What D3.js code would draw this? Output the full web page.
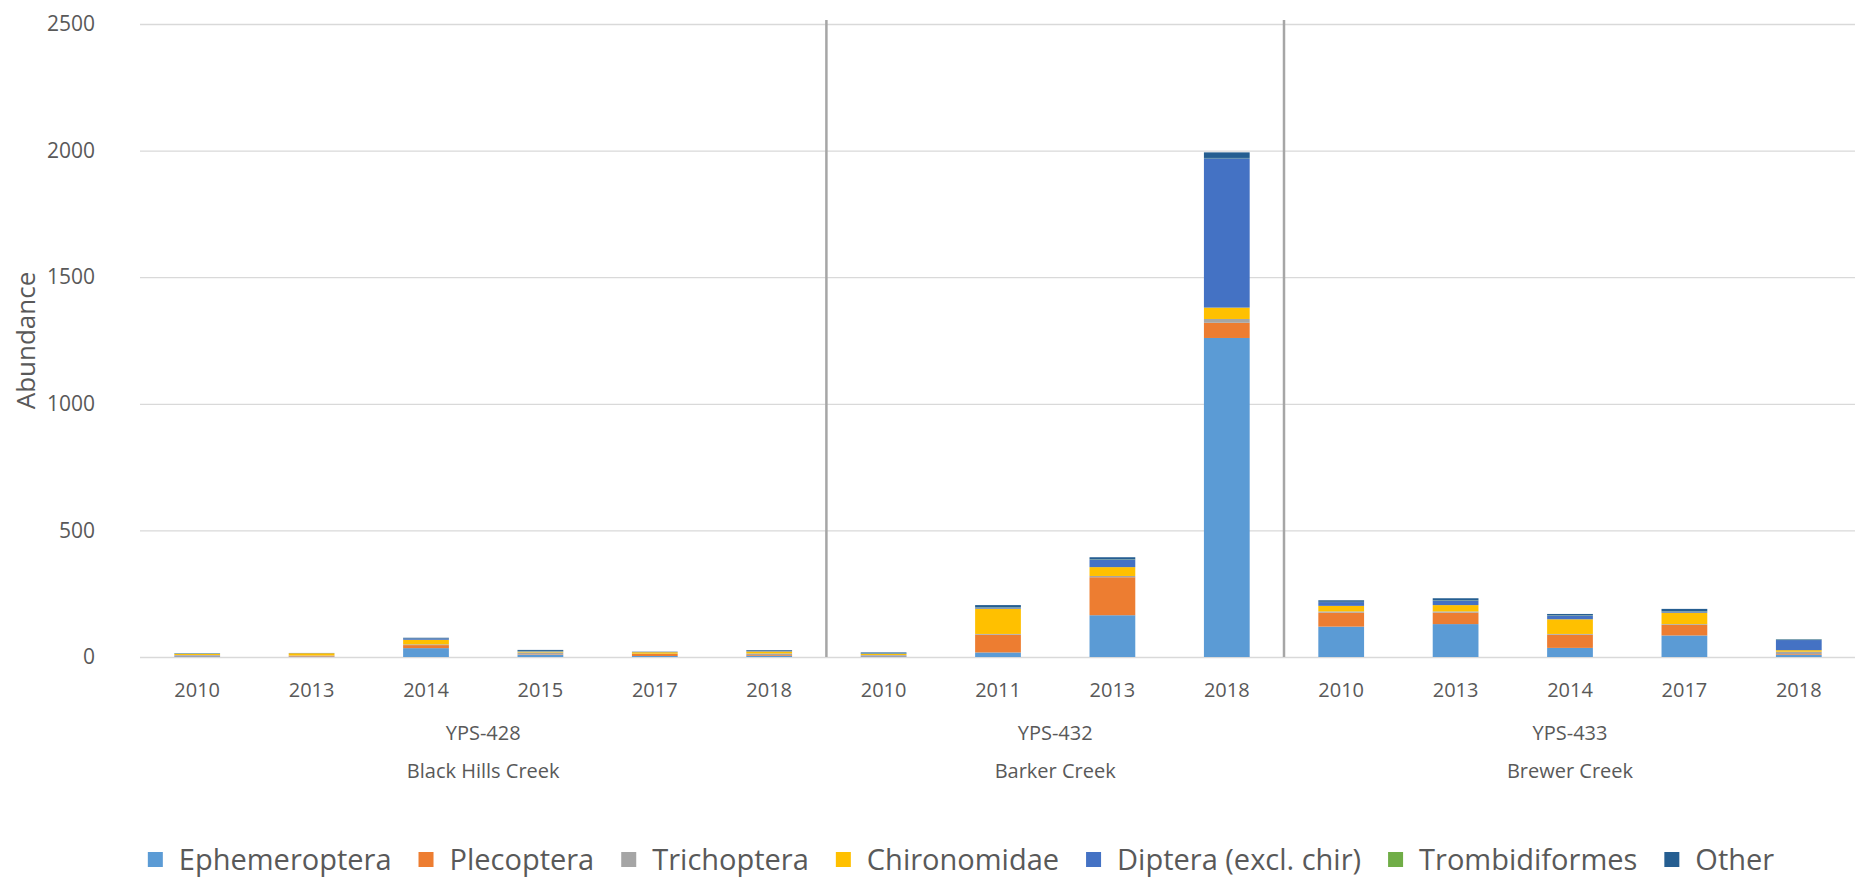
<!DOCTYPE html>
<html>
<head>
<meta charset="utf-8">
<script src="https://cdn.jsdelivr.net/npm/d3@7"></script>
<style>
  body { margin: 0; background: #fff; }
  svg text { font-family: 'Open Sans', sans-serif; fill: #595959; }
</style>
</head>
<body>
<svg id="chart" width="1855" height="889"></svg>
<script>
// sites (outer level of the category axis)
const sites = ['YPS-428', 'YPS-432', 'YPS-433']
const siteNames = ['Black Hills Creek', 'Barker Creek', 'Brewer Creek']
// one entry per bar
const years = ['2010', '2013', '2014', '2015', '2017', '2018', '2010', '2011', '2013', '2018', '2010', '2013', '2014', '2017', '2018']
const siteOf = [0, 0, 0, 0, 0, 0, 1, 1, 1, 1, 2, 2, 2, 2, 2]

const taxa = ['Ephemeroptera', 'Plecoptera', 'Trichoptera', 'Chironomidae', 'Diptera (excl. chir)', 'Trombidiformes', 'Other']
const colors = ['#5b9bd5', '#ed7d31', '#a5a5a5', '#ffc000', '#4472c4', '#70ad47', '#255e91']

const ephemeroptera = [3, 2, 35, 8, 4, 5, 3, 18, 165, 1260, 120, 130, 36, 85, 8]
const plecoptera = [2, 3, 12, 2, 8, 3, 2, 70, 150, 60, 55, 45, 52, 42, 3]
const trichoptera = [3, 1, 3, 8, 1, 6, 3, 3, 5, 15, 5, 5, 3, 3, 10]
const chironomidae = [4, 9, 18, 3, 6, 8, 4, 100, 35, 45, 22, 25, 58, 45, 6]
const diptera = [1, 1, 5, 2, 1, 2, 2, 5, 30, 590, 15, 18, 15, 5, 40]
const trombidiformes = [1, 0, 0, 1, 0, 0, 1, 1, 1, 1, 1, 1, 1, 1, 1]
const other = [1, 0, 3, 4, 1, 3, 3, 8, 8, 22, 6, 8, 5, 9, 2]

const yTicks = [0, 500, 1000, 1500, 2000, 2500]

const seriesValues = [ephemeroptera, plecoptera, trichoptera, chironomidae, diptera, trombidiformes, other]
const rows = years.map((y, i) => {
  const r = { id: i }
  taxa.forEach((t, k) => { r[t] = seriesValues[k][i] })
  return r
})

const margin = { left: 140, right: 1856, top: 24, bottom: 657 }
const svg = d3.select('#chart')

const x = d3.scaleBand()
  .domain(d3.range(years.length))
  .range([margin.left, margin.right])
  .paddingInner(0.6)
  .paddingOuter(0.3)
const y = d3.scaleLinear().domain([0, 2500]).range([margin.bottom, margin.top])

// gridlines + tick labels
const yAxis = svg.append('g')
  .attr('transform', `translate(${margin.left},0)`)
  .call(d3.axisLeft(y).tickValues(yTicks).tickFormat(d3.format('d'))
    .tickSize(-(margin.right - margin.left)).tickPadding(45))
yAxis.select('.domain').remove()
yAxis.selectAll('line').attr('stroke', '#d9d9d9').attr('stroke-width', 1.3)
yAxis.selectAll('text').style('font-size', '21px').attr('fill', '#595959')

// site separators
const step = x.step()
for (let s = 1; s < sites.length; s++) {
  const first = siteOf.indexOf(s)
  const sx = x(first) - step * 0.3
  svg.append('line')
    .attr('x1', sx).attr('x2', sx)
    .attr('y1', y(2500) - 4).attr('y2', y(0))
    .attr('stroke', '#a6a6a6').attr('stroke-width', 2.5)
}

// stacked bars
const stack = d3.stack().keys(taxa)(rows)
svg.append('g')
  .selectAll('g')
  .data(stack)
  .join('g')
  .attr('fill', (d, i) => colors[i])
  .selectAll('rect')
  .data((d) => d)
  .join('rect')
  .attr('x', (d) => x(d.data.id))
  .attr('width', x.bandwidth())
  .attr('y', (d) => y(d[1]))
  .attr('height', (d) => y(d[0]) - y(d[1]))

// year labels
svg.append('g')
  .selectAll('text')
  .data(years)
  .join('text')
  .attr('x', (d, i) => x(i) + x.bandwidth() / 2)
  .attr('y', 697)
  .attr('text-anchor', 'middle')
  .style('font-size', '20px')
  .text((d) => d)

// site labels
sites.forEach((s, k) => {
  const idx = d3.range(years.length).filter((i) => siteOf[i] === k)
  const cx = (x(idx[0]) + x(idx[idx.length - 1]) + x.bandwidth()) / 2
  const t = svg.append('text')
    .attr('x', cx)
    .attr('text-anchor', 'middle')
    .style('font-size', '20px')
  t.append('tspan').attr('x', cx).attr('y', 740).text(s)
  t.append('tspan').attr('x', cx).attr('y', 778).text(siteNames[k])
})

// y axis title
svg.append('text')
  .attr('transform', `translate(35,${(margin.top + margin.bottom) / 2}) rotate(-90)`)
  .attr('text-anchor', 'middle')
  .style('font-size', '26px')
  .text('Abundance')

// legend
const legend = svg.append('g')
let lx = 0
taxa.forEach((t, i) => {
  const g = legend.append('g').attr('transform', `translate(${lx},0)`)
  g.append('rect').attr('x', 0).attr('y', -8).attr('width', 15).attr('height', 15).attr('fill', colors[i])
  const txt = g.append('text').attr('x', 31).attr('y', 10).style('font-size', '29px').text(t)
  lx += 31 + txt.node().getComputedTextLength() + 27
})
lx -= 27
legend.attr('transform', `translate(${961 - lx / 2},860)`)
</script>
</body>
</html>
